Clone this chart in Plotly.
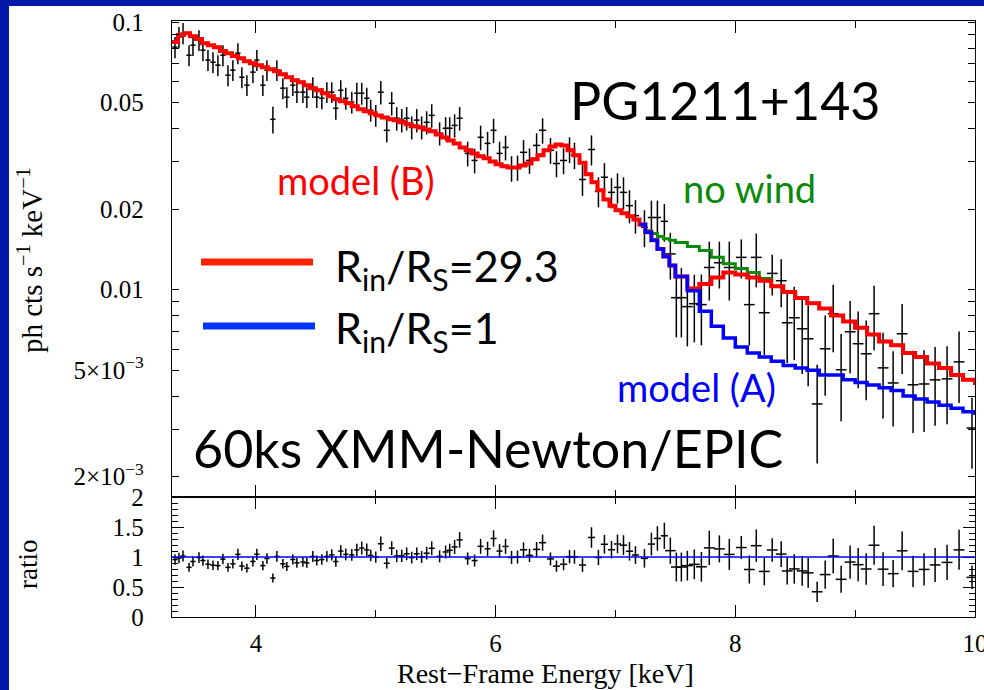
import numpy as np
import plotly.graph_objects as go

# ---------------- data ----------------
energy = [3.325, 3.358, 3.392, 3.442, 3.475, 3.525, 3.558, 3.600, 3.642, 3.683,
          3.725, 3.767, 3.808, 3.850, 3.883, 3.925, 3.975, 4.008, 4.058, 4.092,
          4.142, 4.175, 4.225, 4.258, 4.308, 4.342, 4.392, 4.425, 4.475, 4.508,
          4.550, 4.592, 4.633, 4.667, 4.708, 4.750, 4.800, 4.842, 4.883, 4.925,
          4.958, 5.000, 5.042, 5.092, 5.133, 5.175, 5.217, 5.258, 5.300, 5.342,
          5.383, 5.425, 5.467, 5.533, 5.583, 5.617, 5.658, 5.700, 5.767, 5.825,
          5.875, 5.933, 5.983, 6.033, 6.083, 6.133, 6.183, 6.233, 6.283, 6.342,
          6.392, 6.458, 6.508, 6.567, 6.617, 6.658, 6.725, 6.800, 6.858, 6.908,
          6.967, 7.017, 7.067, 7.117, 7.167, 7.242, 7.300, 7.350, 7.408, 7.458,
          7.508, 7.550, 7.600, 7.658, 7.717, 7.783, 7.867, 7.950, 8.050, 8.117,
          8.175, 8.242, 8.308, 8.383, 8.433, 8.492, 8.558, 8.608, 8.683, 8.750,
          8.817, 8.883, 8.958, 9.025, 9.092, 9.158, 9.233, 9.317, 9.392, 9.483,
          9.575, 9.667, 9.767, 9.867, 9.975]

flux = [0.0806, 0.0879, 0.0909, 0.0752, 0.0820, 0.0856, 0.0785, 0.0721, 0.0708, 0.0690,
        0.0752, 0.0633, 0.0661, 0.0765, 0.0622, 0.0581, 0.0650, 0.0721, 0.0581, 0.0661,
        0.0433, 0.0661, 0.0566, 0.0524, 0.0581, 0.0547, 0.0547, 0.0524, 0.0571, 0.0524,
        0.0519, 0.0547, 0.0547, 0.0476, 0.0556, 0.0519, 0.0502, 0.0542, 0.0542, 0.0519,
        0.0468, 0.0448, 0.0547, 0.0394, 0.0497, 0.0437, 0.0430, 0.0437, 0.0404, 0.0430,
        0.0404, 0.0422, 0.0448, 0.0384, 0.0401, 0.0401, 0.0411, 0.0437, 0.0323, 0.0304,
        0.0371, 0.0352, 0.0394, 0.0323, 0.0340, 0.0284, 0.0286, 0.0326, 0.0304, 0.0346,
        0.0394, 0.0332, 0.0296, 0.0304, 0.0334, 0.0318, 0.0258, 0.0334, 0.0233, 0.0263,
        0.0231, 0.0241, 0.0231, 0.0206, 0.0189, 0.0171, 0.0186, 0.0186, 0.0180, 0.0136,
        0.00933, 0.00933, 0.00864, 0.00886, 0.00879, 0.0121, 0.0126, 0.0121, 0.0132, 0.00879,
        0.0132, 0.00820, 0.0115, 0.0108, 0.00752, 0.00785, 0.00714, 0.00655, 0.00374, 0.00601,
        0.00813, 0.00502, 0.00696, 0.00628, 0.00576, 0.00813, 0.00510, 0.00448, 0.00684, 0.00441,
        0.00444, 0.00460, 0.00464, 0.00537, 0.00304]

flux_err = [0.0073, 0.0079, 0.0082, 0.0068, 0.0074, 0.0077, 0.0071, 0.0065, 0.0064, 0.0062,
            0.0068, 0.0057, 0.0059, 0.0069, 0.0056, 0.0052, 0.0059, 0.0065, 0.0052, 0.0059,
            0.0050, 0.0059, 0.0051, 0.0047, 0.0052, 0.0049, 0.0049, 0.0047, 0.0051, 0.0047,
            0.0047, 0.0049, 0.0049, 0.0045, 0.0050, 0.0049, 0.0047, 0.0051, 0.0051, 0.0049,
            0.0044, 0.0042, 0.0055, 0.0039, 0.0050, 0.0044, 0.0043, 0.0044, 0.0040, 0.0043,
            0.0040, 0.0042, 0.0045, 0.0038, 0.0040, 0.0040, 0.0041, 0.0044, 0.0034, 0.0032,
            0.0039, 0.0037, 0.0041, 0.0034, 0.0036, 0.0031, 0.0031, 0.0036, 0.0033, 0.0038,
            0.0043, 0.0037, 0.0033, 0.0034, 0.0037, 0.0036, 0.0034, 0.0043, 0.0030, 0.0034,
            0.0030, 0.0031, 0.0032, 0.0029, 0.0027, 0.0027, 0.0029, 0.0029, 0.0029, 0.0027,
            0.0027, 0.0027, 0.0025, 0.0025, 0.0026, 0.0030, 0.0025, 0.0030, 0.0022, 0.0026,
            0.0030, 0.0025, 0.0020, 0.0022, 0.0022, 0.0024, 0.0023, 0.0022, 0.0015, 0.0020,
            0.0023, 0.0018, 0.0021, 0.0020, 0.0019, 0.0022, 0.0018, 0.0014, 0.0020, 0.0015,
            0.0015, 0.0015, 0.0015, 0.0016, 0.0009]

energy_err = [
    0.022, 0.022, 0.022, 0.022, 0.022, 0.022, 0.022, 0.022, 0.022, 0.022,
    0.022, 0.022, 0.022, 0.022, 0.022, 0.022, 0.022, 0.022, 0.022, 0.022,
    0.022, 0.022, 0.022, 0.022, 0.022, 0.022, 0.022, 0.022, 0.022, 0.022,
    0.022, 0.022, 0.022, 0.022, 0.022, 0.022, 0.022, 0.022, 0.022, 0.022,
    0.022, 0.022, 0.025, 0.025, 0.025, 0.025, 0.025, 0.025, 0.025, 0.025,
    0.025, 0.025, 0.025, 0.025, 0.025, 0.025, 0.025, 0.025, 0.025, 0.025,
    0.025, 0.025, 0.025, 0.025, 0.025, 0.030, 0.030, 0.030, 0.030, 0.030,
    0.030, 0.030, 0.030, 0.030, 0.030, 0.030, 0.030, 0.030, 0.030, 0.030,
    0.030, 0.030, 0.030, 0.030, 0.030, 0.030, 0.030, 0.030, 0.030, 0.045,
    0.045, 0.045, 0.045, 0.045, 0.045, 0.045, 0.045, 0.045, 0.045, 0.045,
    0.045, 0.045, 0.045, 0.045, 0.045, 0.045, 0.045, 0.045, 0.045, 0.045,
    0.045, 0.045, 0.045, 0.045, 0.045, 0.045, 0.045, 0.045, 0.045, 0.045,
    0.045, 0.045, 0.045, 0.045, 0.045]

# model grid (histogram bin starts, keV)
model_energy = [3.30, 3.35, 3.40, 3.45, 3.50, 3.55, 3.60, 3.65, 3.70, 3.75,
                3.80, 3.85, 3.90, 3.95, 4.00, 4.05, 4.10, 4.15, 4.20, 4.25,
                4.30, 4.35, 4.40, 4.45, 4.50, 4.55, 4.60, 4.65, 4.70, 4.75,
                4.80, 4.85, 4.90, 4.95, 5.00, 5.05, 5.10, 5.15, 5.20, 5.25,
                5.30, 5.35, 5.40, 5.45, 5.50, 5.55, 5.60, 5.65, 5.70, 5.75,
                5.80, 5.85, 5.90, 5.95, 6.00, 6.05, 6.10, 6.15, 6.20, 6.25,
                6.30, 6.35, 6.40, 6.45, 6.50, 6.55, 6.60, 6.65, 6.70, 6.75,
                6.80, 6.85, 6.90, 6.95, 7.00, 7.05, 7.10, 7.15, 7.20, 7.25,
                7.30, 7.35, 7.40, 7.45, 7.50, 7.60, 7.70, 7.80, 7.90, 8.00,
                8.10, 8.20, 8.30, 8.40, 8.50, 8.60, 8.70, 8.80, 8.90, 9.00,
                9.10, 9.20, 9.30, 9.40, 9.50, 9.60, 9.70, 9.80, 9.90, 10.00]

# common part of all models, 3.30 - 7.20 keV
model_shared = [0.0842, 0.0894, 0.0909, 0.0886, 0.0864, 0.0834, 0.0820, 0.0806, 0.0779, 0.0765,
                0.0746, 0.0733, 0.0714, 0.0702, 0.0690, 0.0678, 0.0667, 0.0655, 0.0638, 0.0622,
                0.0606, 0.0596, 0.0581, 0.0566, 0.0556, 0.0542, 0.0528, 0.0515, 0.0506, 0.0497,
                0.0485, 0.0472, 0.0464, 0.0456, 0.0448, 0.0440, 0.0433, 0.0430, 0.0422, 0.0415,
                0.0408, 0.0404, 0.0397, 0.0391, 0.0380, 0.0370, 0.0361, 0.0352, 0.0340, 0.0332,
                0.0323, 0.0315, 0.0310, 0.0301, 0.0294, 0.0289, 0.0286, 0.0286, 0.0291, 0.0296,
                0.0307, 0.0318, 0.0332, 0.0343, 0.0349, 0.0346, 0.0332, 0.0318, 0.0298, 0.0270,
                0.0252, 0.0235, 0.0217, 0.0206, 0.0198, 0.0193, 0.0188, 0.0183, 0.0175]
# 7.25 - 10.0 keV
modelB_tail = [0.0164, 0.0153, 0.0142, 0.0133, 0.0123, 0.0112,
               0.0101, 0.0105, 0.0111, 0.0116, 0.0114, 0.0111, 0.0108, 0.0103, 0.0098, 0.0093,
               0.0089, 0.0085, 0.0080, 0.0076, 0.0072, 0.0068, 0.0064, 0.0062, 0.0058, 0.0056,
               0.0053, 0.0051, 0.0048, 0.0046, 0.0044]
modelA_tail = [0.0164, 0.0153, 0.0142, 0.0133, 0.0123, 0.0112,
               0.0099, 0.0083, 0.0073, 0.0066, 0.0061, 0.0058, 0.0056, 0.0054, 0.0052, 0.0051,
               0.0050, 0.0048, 0.0048, 0.0046, 0.0045, 0.0044, 0.0043, 0.0042, 0.0040, 0.0039,
               0.0038, 0.0037, 0.0036, 0.0035, 0.0034]
nowind_tail = [0.0166, 0.0162, 0.0158, 0.0155, 0.0153, 0.0150,
               0.0145, 0.0140, 0.0132, 0.0125, 0.0120, 0.0116, 0.0110, 0.0103, 0.0098, 0.0093,
               0.0089, 0.0085, 0.0080, 0.0076, 0.0072, 0.0068, 0.0064, 0.0062, 0.0058, 0.0056,
               0.0053, 0.0051, 0.0048, 0.0046, 0.0044]
ratio_unity = 1.0

modelB = model_shared + modelB_tail
nowind = model_shared + nowind_tail
modelA_energy = model_energy[len(model_shared) - 1:]
modelA = model_shared[-1:] + modelA_tail

# ratio = data / model (B)
me = np.array(model_energy)
idx = np.clip(np.searchsorted(me, np.array(energy), side="right") - 1, 0, len(me) - 1)
mB = np.array(modelB)[idx]
ratio = np.array(flux) / mB
ratio_err = np.array(flux_err) / mB

# ---------------- figure ----------------
L, R, T, B = 172, 9, 21, 73
W, H = 984, 690
PW, PH = W - L - R, H - T - B


def px(x):
    return (x - L) / PW


def py(y):
    return (H - B - y) / PH


split = (617 - 497) / PH

BLUE_BG = "#0019A8"
SERIF = "Liberation Serif"
SANS = "Lato"

fig = go.Figure()

errstyle = dict(type="data", width=0, thickness=1.5, color="black")
nomarker = dict(size=1, color="rgba(0,0,0,0)")
fig.add_trace(go.Scatter(
    x=energy, y=flux, mode="markers", marker=nomarker,
    error_x=dict(array=energy_err, **errstyle), error_y=dict(array=flux_err, **errstyle),
    xaxis="x2", yaxis="y", showlegend=False, hoverinfo="skip"))
fig.add_trace(go.Scatter(
    x=model_energy, y=nowind, mode="lines", line=dict(color="#0A8A0A", width=3, shape="hv"),
    xaxis="x2", yaxis="y", showlegend=False, hoverinfo="skip"))
fig.add_trace(go.Scatter(
    x=model_energy, y=modelB, mode="lines", line=dict(color="#FF0000", width=4, shape="hv"),
    xaxis="x2", yaxis="y", showlegend=False, hoverinfo="skip"))
fig.add_trace(go.Scatter(
    x=modelA_energy, y=modelA, mode="lines", line=dict(color="#0000FF", width=3.5, shape="hv"),
    xaxis="x2", yaxis="y", showlegend=False, hoverinfo="skip"))

fig.add_trace(go.Scatter(
    x=energy, y=ratio, mode="markers", marker=nomarker,
    error_x=dict(array=energy_err, **errstyle), error_y=dict(array=ratio_err, **errstyle),
    xaxis="x", yaxis="y2", showlegend=False, hoverinfo="skip"))

fig.add_hline(y=ratio_unity, line=dict(color="#0000FF", width=1.5), xref="x", yref="y2")

axis_common = dict(
    ticks="inside", tickcolor="black", tickwidth=1.3, showline=True, linecolor="black",
    linewidth=1.3, mirror="ticks", showgrid=False, zeroline=False, automargin=False,
    tickfont=dict(family=SERIF, size=25, color="black"))

fig.update_layout(
    width=W, height=H,
    margin=dict(l=L, r=R, t=T, b=B, autoexpand=False),
    paper_bgcolor=BLUE_BG, plot_bgcolor="white",
    xaxis=dict(domain=[0, 1], anchor="y2", range=[3.3, 10], tickvals=[4, 6, 8, 10],
               ticklen=12, ticklabelstandoff=4, ticklabeloverflow="allow",
               minor=dict(tickvals=[5, 7, 9], ticklen=7, ticks="inside", tickcolor="black",
                          tickwidth=1.3, showgrid=False),
               **axis_common),
    xaxis2=dict(domain=[0, 1], anchor="y", range=[3.3, 10], matches="x", tickvals=[4, 6, 8, 10],
                ticklen=12, showticklabels=False,
                minor=dict(tickvals=[5, 7, 9], ticklen=7, ticks="inside", tickcolor="black",
                           tickwidth=1.3, showgrid=False),
                **axis_common),
    yaxis=dict(domain=[split, 1], anchor="x2", type="log", range=[-2.775, -0.996],
               tickvals=[0.1, 0.05, 0.02, 0.01, 0.005, 0.002],
               ticktext=["0.1", "0.05", "0.02", "0.01", "5×10<sup>−3</sup>", "2×10<sup>−3</sup>"],
               ticklen=7, ticklabelstandoff=22, ticklabeloverflow="allow",
               minor=dict(tickvals=[0.09, 0.08, 0.07, 0.06, 0.04, 0.03,
                                    0.009, 0.008, 0.007, 0.006, 0.004, 0.003],
                          ticklen=7, ticks="inside", tickcolor="black", tickwidth=1.3,
                          showgrid=False),
               **axis_common),
    yaxis3=dict(overlaying="y", anchor="x2", type="log", range=[-2.775, -0.996],
                tickvals=[0.1, 0.01], ticks="inside", ticklen=12, tickwidth=1.3,
                tickcolor="black", showticklabels=False, showline=False, mirror="ticks",
                showgrid=False, zeroline=False, side="left", automargin=False),
    yaxis2=dict(domain=[0, split], anchor="x", range=[0, 2],
                tickvals=[0, 0.5, 1, 1.5, 2], ticktext=["0", "0.5", "1", "1.5", "2"],
                ticklen=12, ticklabelstandoff=22, ticklabeloverflow="allow",
                minor=dict(dtick=0.1, ticklen=6, ticks="inside", tickcolor="black",
                           tickwidth=1.3, showgrid=False),
                **axis_common),
)

# white panel behind the chart
fig.add_shape(type="rect", xref="paper", yref="paper", x0=px(9), x1=px(984), y0=py(690), y1=py(6),
              fillcolor="white", line=dict(width=0), layer="below")

# legend keys
fig.add_shape(type="line", xref="paper", yref="paper", x0=px(201), x1=px(313), y0=py(262), y1=py(262),
              line=dict(color="#FF2200", width=7))
fig.add_shape(type="line", xref="paper", yref="paper", x0=px(203), x1=px(315), y0=py(326), y1=py(326),
              line=dict(color="#0033FF", width=7))


def note(text, x, y, size, color, family=SANS, xanchor="center", angle=0):
    fig.add_annotation(text=text, x=px(x), y=py(y), xref="paper", yref="paper",
                       showarrow=False, xanchor=xanchor, yanchor="middle", textangle=angle,
                       font=dict(family=family, size=size, color=color))


note("PG1211+143", 725, 100, 52, "black")
note("model (B)", 356, 180, 38, "#FF0000")
note("no wind", 749, 188, 38, "#0A8A0A")
note("model (A)", 696, 387, 38, "#0000FF")
note("R<sub>in</sub>/R<sub>S</sub>=29.3", 333, 268, 43, "black", xanchor="left")
note("R<sub>in</sub>/R<sub>S</sub>=1", 333, 330, 43, "black", xanchor="left")
note("60ks XMM-Newton/EPIC", 488, 448, 52, "black")

note("ph cts s<sup>−1</sup> keV<sup>−1</sup>", 30, 260, 29, "black", family=SERIF, angle=-90)
note("ratio", 28, 565, 27, "black", family=SERIF, angle=-90)
note("Rest−Frame Energy [keV]", 545, 673, 28, "black", family=SERIF)

fig.write_html("out.html")
